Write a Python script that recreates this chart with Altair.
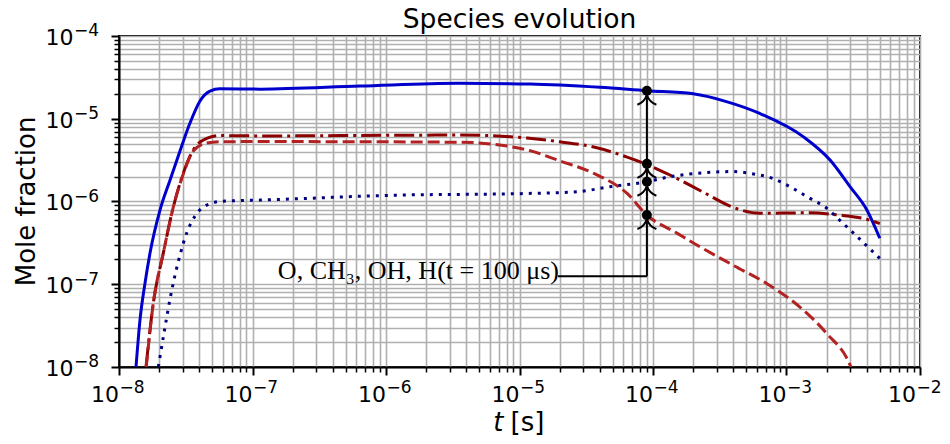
import altair as alt
import pandas as pd

# ---- data ----
h_t = [1.341e-8, 1.436e-8, 1.566e-8, 1.707e-8, 2.028e-8, 2.41e-8, 2.863e-8, 3.402e-8, 4.044e-8,
       4.805e-8, 5.71e-8, 1.14e-7, 6.4e-7, 3.5e-6, 1.2e-5, 4e-5, 9e-5, 2e-4, 3.6e-4, 6.3e-4,
       1.35e-3, 2.12e-3, 3e-3, 4e-3, 5e-3]
h_y = [1e-8, 3.68e-8, 1.03e-7, 2.38e-7, 7.87e-7, 1.81e-6, 4.07e-6, 8.87e-6, 1.64e-5,
       2.16e-5, 2.3e-5, 2.28e-5, 2.48e-5, 2.68e-5, 2.63e-5, 2.4e-5, 2.18e-5, 2.0e-5, 1.6e-5, 1.16e-5,
       6.0e-6, 3.17e-6, 1.5e-6, 7.9e-7, 3.6e-7]

oh_t = [1.593e-8, 1.807e-8, 2.147e-8, 2.551e-8, 3.03e-8, 3.6e-8, 4.54e-8, 5.71e-8, 1.14e-7, 3.6e-6,
        1.14e-5, 2e-5, 3.6e-5, 6.4e-5, 9e-5, 1.34e-4, 2.37e-4, 3.98e-4, 6.3e-4, 1.42e-3,
        2.5e-3, 4.2e-3, 5e-3]
oh_y = [1e-8, 5.9e-8, 2.38e-7, 8.55e-7, 2.2e-6, 4.19e-6, 5.79e-6, 6.26e-6, 6.2e-6, 6.35e-6,
        5.85e-6, 5.27e-6, 4.55e-6, 3.44e-6, 2.8e-6, 2.09e-6, 1.3e-6, 8.5e-7, 7.2e-7, 7.3e-7,
        6.85e-7, 5.96e-7, 5.4e-7]

o_t = [1.6e-8, 1.807e-8, 2.147e-8, 2.551e-8, 3.03e-8, 3.6e-8, 4.54e-8, 5.71e-8, 1.14e-7, 3.6e-6,
       1.14e-5, 2e-5, 3.6e-5, 6.4e-5, 9e-5, 1.51e-4, 2.25e-4, 3.98e-4, 7.1e-4, 1.26e-3,
       2.0e-3, 3.0e-3, 3.3e-3]
o_y = [1e-8, 5.9e-8, 2.38e-7, 8.55e-7, 2.15e-6, 4.07e-6, 5.08e-6, 5.27e-6, 5.3e-6, 5.2e-6,
       4.2e-6, 3.1e-6, 2.19e-6, 1.25e-6, 6.85e-7, 4.15e-7, 2.83e-7, 1.7e-7, 1.02e-7, 5.3e-8,
       2.54e-8, 1.05e-8, 7e-9]

ch3_t = [1.97e-8, 2.211e-8, 2.41e-8, 2.628e-8, 2.863e-8, 3.233e-8, 3.71e-8, 4.54e-8, 6.01e-8, 1.14e-7,
         1.13e-6, 1.14e-5, 2.7e-5, 4.76e-5, 8.4e-5, 1.34e-4, 2.67e-4, 4e-4, 5.3e-4, 7.9e-4,
         1.12e-3, 1.5e-3, 2.0e-3, 2.5e-3, 3.15e-3, 4.0e-3, 5e-3]
ch3_y = [1e-8, 3.03e-8, 6.6e-8, 1.29e-7, 2.25e-7, 4.27e-7, 6.66e-7, 9.04e-7, 1.01e-6, 1.04e-6,
         1.19e-6, 1.25e-6, 1.31e-6, 1.51e-6, 1.7e-6, 1.99e-6, 2.25e-6, 2.3e-6, 2.19e-6, 1.9e-6,
         1.44e-6, 1.09e-6, 8.3e-7, 5.96e-7, 4.2e-7, 2.9e-7, 2.05e-7]

# annotation (t = 100 us markers)
ann_t = 9e-5
ann_y = [2.18e-5, 2.85e-6, 1.73e-6, 6.85e-7]
ann_line_y = 1.25e-7
ann_text_t = 1.94e-5
ann_label = "O, CH₃, OH, H(t = 100 μs)"

# axis ticks and labels
x_ticks = [m * 10.0 ** k for k in range(-8, -2) for m in range(1, 10)] + [1e-2]
y_ticks = [m * 10.0 ** k for k in range(-8, -4) for m in range(1, 10)] + [1e-4]
x_major = [1e-8, 1e-7, 1e-6, 1e-5, 1e-4, 1e-3, 1e-2]
x_sup = ["−8", "−7", "−6", "−5", "−4", "−3", "−2"]
y_major = [1e-8, 1e-7, 1e-6, 1e-5, 1e-4]
y_sup = ["−8", "−7", "−6", "−5", "−4"]

title_text = "Species evolution"
x_title_var = "t"
x_title_unit = "[s]"
y_title = "Mole fraction"

# ---- chart ----
FONT = "DejaVu Sans"
is_major = "abs(log(datum.value)/LN10 - round(log(datum.value)/LN10)) < 0.001"

common_axis = dict(
    labels=False, title="",
    grid=True, gridColor="#b0b0b0", gridWidth=1.6,
    domainColor="black", domainWidth=2,
    tickColor="black",
    tickSize={"condition": {"test": is_major, "value": 8}, "value": 5},
    tickWidth={"condition": {"test": is_major, "value": 2}, "value": 1.5},
)

X = alt.X("t:Q", scale=alt.Scale(type="log", domain=[1e-8, 1e-2], nice=False),
          axis=alt.Axis(values=x_ticks, **common_axis))
Y = alt.Y("y:Q", scale=alt.Scale(type="log", domain=[1e-8, 1e-4], nice=False),
          axis=alt.Axis(values=y_ticks, **common_axis))


def line(ts, ys, color, dash):
    df = pd.DataFrame({"t": ts, "y": ys})
    kw = dict(clip=True, color=color, strokeWidth=3, interpolate="monotone")
    if dash:
        kw["strokeDash"] = dash
    return alt.Chart(df).mark_line(**kw).encode(x=X, y=Y)


l_h = line(h_t, h_y, "#0000cd", None)
l_oh = line(oh_t, oh_y, "#8b0000", [20, 5, 3, 5])
l_o = line(o_t, o_y, "#b22222", [12, 5])
l_ch3 = line(ch3_t, ch3_y, "#000080", [3, 6])

ann_df = pd.DataFrame({"t": [ann_t] * len(ann_y), "y": ann_y})
vline = alt.Chart(pd.DataFrame({"t": [ann_t], "y": [ann_line_y], "y2": [ann_y[0]]})).mark_rule(
    color="black", strokeWidth=2).encode(x=X, y=Y, y2="y2:Q")
hline = alt.Chart(pd.DataFrame({"t": [ann_text_t], "t2": [ann_t], "y": [ann_line_y]})).mark_rule(
    color="black", strokeWidth=2).encode(x=X, x2="t2:Q", y=Y)
chevron = "M -1 1.47 Q -0.25 1.2 0 0.42 Q 0.25 1.2 1 1.47"
heads = alt.Chart(ann_df).mark_point(shape=chevron, size=361, filled=False, stroke="black",
                                      strokeWidth=2, opacity=1).encode(x=X, y=Y)
dots = alt.Chart(ann_df).mark_point(shape="circle", size=100, filled=True, color="black",
                                    opacity=1).encode(x=X, y=Y)
label = alt.Chart(pd.DataFrame({"t": [ann_text_t], "y": [ann_line_y], "txt": [ann_label]})).mark_text(
    align="right", baseline="middle", dy=-5, dx=1, font="Liberation Serif", fontSize=26,
    color="black").encode(x=X, y=Y, text="txt:N")

# tick labels as base "10" + superscript exponent
xl_df = pd.DataFrame({"t": x_major, "base": ["10"] * len(x_major), "sup": x_sup})
xl_main = xl_df.iloc[:-1]
xl_last = xl_df.iloc[-1:]


def xlabels(df, shift):
    b = alt.Chart(df).mark_text(align="right", baseline="alphabetic", font=FONT, fontSize=22,
                                color="black", dx=shift).encode(x=X, y=alt.value(365.5), text="base:N")
    s = alt.Chart(df).mark_text(align="left", baseline="alphabetic", font=FONT, fontSize=17,
                                color="black", dx=0.5 + shift).encode(x=X, y=alt.value(357), text="sup:N")
    return [b, s]


yl_df = pd.DataFrame({"y": y_major, "base": ["10"] * len(y_major), "sup": y_sup})
yl_base = alt.Chart(yl_df).mark_text(align="right", baseline="alphabetic", font=FONT, fontSize=22,
                                     color="black", dy=8.8).encode(x=alt.value(-45.5), y=Y, text="base:N")
yl_sup = alt.Chart(yl_df).mark_text(align="left", baseline="alphabetic", font=FONT, fontSize=17,
                                    color="black", dy=0.3).encode(x=alt.value(-45), y=Y, text="sup:N")

# titles
one = pd.DataFrame({"a": [0]})
t_main = alt.Chart(one).mark_text(align="center", baseline="alphabetic", font=FONT, fontSize=26.5,
                                  color="black", text=title_text).encode(
    x=alt.value(400.5), y=alt.value(-8.5))
t_x1 = alt.Chart(one).mark_text(align="right", baseline="alphabetic", font=FONT, fontSize=26,
                                fontStyle="italic", color="black", text=x_title_var).encode(
    x=alt.value(384.5), y=alt.value(395))
t_x2 = alt.Chart(one).mark_text(align="left", baseline="alphabetic", font=FONT, fontSize=26,
                                color="black", text=x_title_unit).encode(
    x=alt.value(391.5), y=alt.value(395))
t_y = alt.Chart(one).mark_text(align="center", baseline="middle", font=FONT, fontSize=26,
                               angle=270, color="black", text=y_title).encode(
    x=alt.value(-92), y=alt.value(165.4))

layers = [l_h, l_oh, l_o, l_ch3, vline, hline, heads, dots, label]
layers += xlabels(xl_main, 0) + xlabels(xl_last, -4)
layers += [yl_base, yl_sup, t_main, t_x1, t_x2, t_y]

chart = alt.layer(*layers).properties(
    width=801, height=331,
    autosize=alt.AutoSizeParams(type="none"),
    padding={"left": 111, "top": 28, "right": 22, "bottom": 69},
).configure_view(stroke="black", strokeWidth=2)

chart.save("out.html", embed_options={"renderer": "svg", "actions": False})
